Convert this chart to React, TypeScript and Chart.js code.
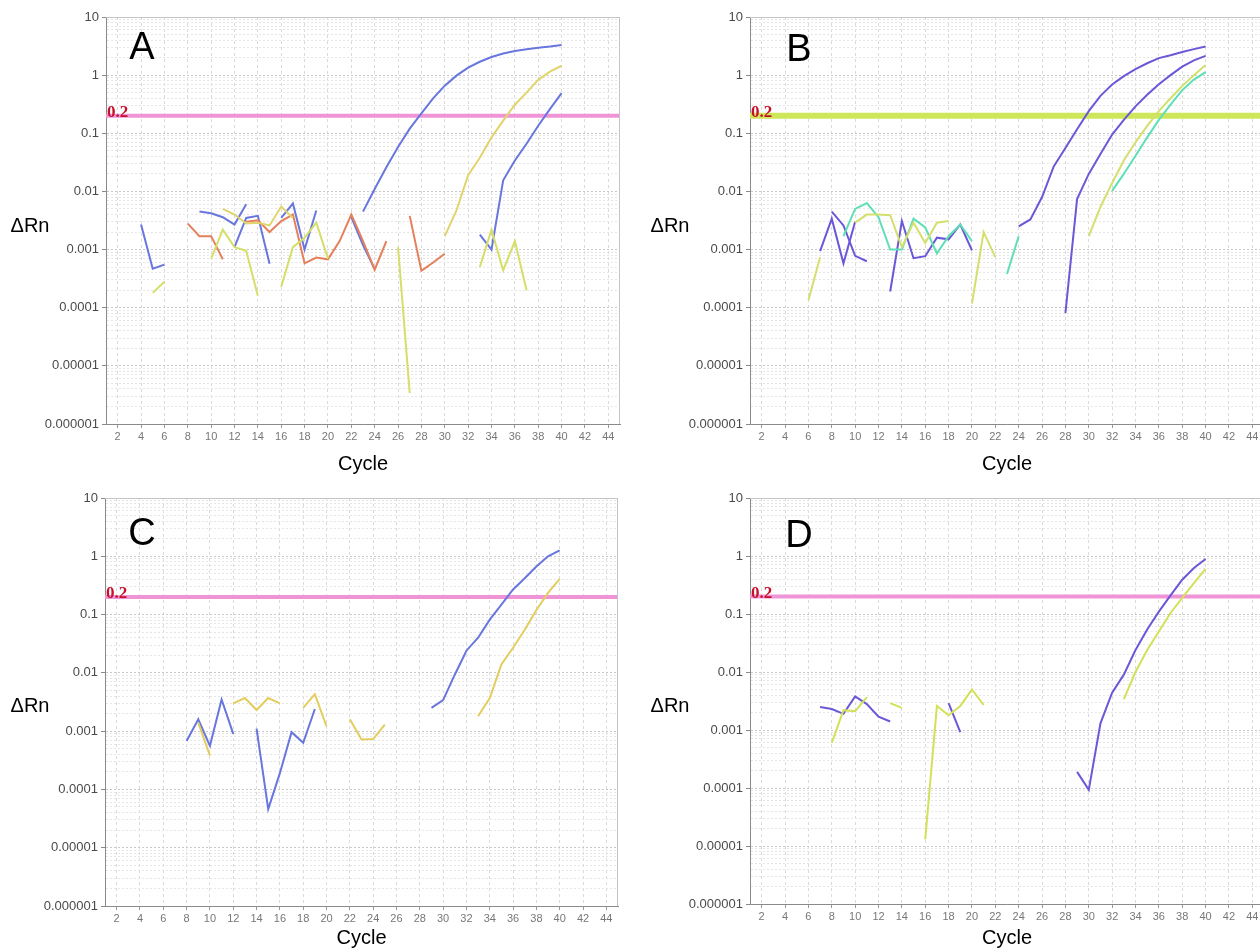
import React, { useEffect, useRef } from "react";
import { Chart, registerables } from "chart.js";

Chart.register(...registerables);

const _ = null;

// x axis (cycles 1..40 for data), tick labels every 2 cycles
const cycles = [
  1, 2, 3, 4, 5, 6, 7, 8, 9, 10, 11, 12, 13, 14, 15, 16, 17, 18, 19, 20,
  21, 22, 23, 24, 25, 26, 27, 28, 29, 30, 31, 32, 33, 34, 35, 36, 37, 38, 39, 40,
];
const xTickValues = [2, 4, 6, 8, 10, 12, 14, 16, 18, 20, 22, 24, 26, 28, 30, 32, 34, 36, 38, 40, 42, 44];
const yDecades = [10, 1, 0.1, 0.01, 0.001, 0.0001, 0.00001, 0.000001];
const yTickLabels = ["10", "1", "0.1", "0.01", "0.001", "0.0001", "0.00001", "0.000001"];
const thresholdValue = 0.2;
const thresholdLabel = "0.2";
const xTitle = "Cycle";
const yTitle = "ΔRn";

// ---------- Panel A ----------
const aBlue1 = [
  _, _, _, 0.0027, 0.00047, 0.00055, _, _, 0.0045, 0.0042,
  0.0036, 0.0027, 0.006, _, _, 0.0035, 0.0062, 0.001, 0.0047, _,
  _, _, 0.0045, 0.011, 0.026, 0.058, 0.12, 0.22, 0.4, 0.66,
  0.98, 1.35, 1.7, 2.05, 2.35, 2.6, 2.8, 2.95, 3.1, 3.3,
];
const aBlue2 = [
  _, _, _, _, _, _, _, _, _, _,
  _, 0.0011, 0.0035, 0.0038, 0.00057, _, _, _, _, _,
  _, 0.0036, 0.0012, 0.00046, _, _, _, _, _, _,
  _, _, 0.0018, 0.001, 0.0155, 0.034, 0.066, 0.135, 0.26, 0.49,
];
const aOrange = [
  _, _, _, _, _, _, _, 0.0028, 0.0017, 0.0017,
  0.00068, _, 0.003, 0.0032, 0.002, 0.0031, 0.004, 0.00058, 0.00073, 0.00068,
  0.0014, 0.004, 0.0014, 0.00045, 0.0014, _, 0.0038, 0.00043, 0.0006, 0.00085,
  _, _, _, _, _, _, _, _, _, _,
];
const aKhaki = [
  _, _, _, _, _, _, _, _, _, _,
  0.005, 0.004, 0.0028, 0.0029, 0.0026, 0.0055, 0.0035, _, _, _,
  _, _, _, _, _, _, _, _, _, 0.0017,
  0.0047, 0.019, 0.038, 0.085, 0.165, 0.31, 0.5, 0.83, 1.15, 1.45,
];
const aLime = [
  _, _, _, _, 0.00018, 0.00028, _, _, _, 0.0007,
  0.0022, 0.0011, 0.00095, 0.00016, _, 0.00023, 0.0011, 0.0016, 0.0029, 0.0007,
  _, _, _, _, _, 0.0011, 0.0000034, _, _, _,
  _, _, 0.0005, 0.0022, 0.00044, 0.0014, 0.0002, _, _, _,
];

// ---------- Panel B ----------
const bPurple1 = [
  _, _, _, _, _, _, 0.00094, 0.0034, 0.00058, 0.003,
  _, _, 0.00019, 0.0031, 0.00071, 0.00077, 0.0016, 0.0015, 0.0027, 0.00097,
  _, _, _, 0.0025, 0.0033, 0.008, 0.027, 0.056, 0.117, 0.24,
  0.44, 0.69, 0.96, 1.27, 1.6, 1.96, 2.2, 2.5, 2.8, 3.1,
];
const bPurple2 = [
  _, _, _, _, _, _, _, 0.0045, 0.0026, 0.00078,
  0.00063, _, _, _, _, _, _, _, _, _,
  _, _, _, _, _, _, _, 0.000081, 0.0074, 0.02,
  0.044, 0.095, 0.17, 0.29, 0.46, 0.7, 1.0, 1.4, 1.8, 2.15,
];
const bYellow = [
  _, _, _, _, _, 0.000135, 0.00074, _, _, 0.0029,
  0.004, 0.004, 0.0039, 0.0011, 0.0029, 0.0013, 0.0029, 0.0031, _, 0.000118,
  0.002, 0.00074, _, _, _, _, _, _, _, 0.0017,
  0.0054, 0.014, 0.034, 0.07, 0.134, 0.24, 0.4, 0.65, 1.0, 1.5,
];
const bTeal = [
  _, _, _, _, _, _, _, _, 0.0017, 0.005,
  0.0063, 0.0036, 0.001, 0.001, 0.0034, 0.0024, 0.00086, 0.0017, 0.0027, 0.0014,
  _, _, 0.00038, 0.0017, _, _, _, _, _, _,
  _, 0.0102, 0.02, 0.041, 0.085, 0.17, 0.31, 0.55, 0.84, 1.13,
];

// ---------- Panel C ----------
const cBlue = [
  _, _, _, _, _, _, _, 0.00068, 0.0016, 0.00056,
  0.0035, 0.0009, _, 0.0011, 0.000046, 0.00019, 0.00096, 0.00063, 0.0024, _,
  _, _, _, _, _, _, _, _, 0.0025, 0.0034,
  0.0093, 0.024, 0.04, 0.082, 0.148, 0.27, 0.42, 0.67, 1.0, 1.26,
];
const cYellow = [
  _, _, _, _, _, _, _, _, 0.0014, 0.00038,
  _, 0.003, 0.0037, 0.0023, 0.0037, 0.003, _, 0.0025, 0.0043, 0.0012,
  _, 0.0016, 0.00072, 0.00073, 0.0013, _, _, _, _, _,
  _, _, 0.0018, 0.0037, 0.014, 0.027, 0.055, 0.12, 0.235, 0.41,
];

// ---------- Panel D ----------
const dPurple = [
  _, _, _, _, _, _, 0.0025, 0.0023, 0.0019, 0.0038,
  0.0028, 0.0017, 0.0014, _, _, _, _, 0.0029, 0.00092, _,
  _, _, _, _, _, _, _, _, 0.00019, 0.000093,
  0.0013, 0.0044, 0.009, 0.024, 0.054, 0.11, 0.21, 0.39, 0.62, 0.89,
];
const dYellow = [
  _, _, _, _, _, _, _, 0.0006, 0.0022, 0.0021,
  0.0037, _, 0.0029, 0.0024, _, 0.000013, 0.0026, 0.0018, 0.0026, 0.005,
  0.0027, _, _, _, _, _, _, _, _, _,
  _, _, 0.0034, 0.01, 0.024, 0.05, 0.104, 0.19, 0.34, 0.6,
];

const BLUE = "#6876de";
const PURPLE = "#6a58d8";
const KHAKI = "#e2d46c";
const LIME = "#d5df68";
const ORANGE = "#e5805c";
const TEAL = "#5fdfb6";
const C_YELLOW = "#e3cd5e";
const B_YELLOW = "#d4df6c";
const D_YELLOW = "#d2e157";
const PINK = "#f094d8";
const B_THRESH = "#cee65a";

type Series = { data: (number | null)[]; color: string };
type PanelCfg = {
  letter: string;
  left: number;
  top: number;
  width: number;
  height: number;
  area: { left: number; right: number; top: number; bottom: number };
  series: Series[];
  threshColor: string;
  threshWidth: number;
  letterPos: [number, number];
  yTitlePos: [number, number];
};

const panels: PanelCfg[] = [
  {
    letter: "A", left: 0, top: 0, width: 630, height: 476,
    area: { left: 106, right: 620, top: 17, bottom: 424 },
    series: [
      { data: aLime, color: LIME },
      { data: aKhaki, color: KHAKI },
      { data: aOrange, color: ORANGE },
      { data: aBlue2, color: BLUE },
      { data: aBlue1, color: BLUE },
    ],
    threshColor: PINK, threshWidth: 4,
    letterPos: [142, 49], yTitlePos: [30, 226],
  },
  {
    letter: "B", left: 630, top: 0, width: 640, height: 476,
    area: { left: 120, right: 634, top: 17, bottom: 424 },
    series: [
      { data: bYellow, color: B_YELLOW },
      { data: bTeal, color: TEAL },
      { data: bPurple2, color: PURPLE },
      { data: bPurple1, color: PURPLE },
    ],
    threshColor: B_THRESH, threshWidth: 6,
    letterPos: [169, 51], yTitlePos: [40, 226],
  },
  {
    letter: "C", left: 0, top: 476, width: 630, height: 476,
    area: { left: 105, right: 618, top: 22, bottom: 430 },
    series: [
      { data: cYellow, color: C_YELLOW },
      { data: cBlue, color: BLUE },
    ],
    threshColor: PINK, threshWidth: 4,
    letterPos: [142, 59], yTitlePos: [30, 230],
  },
  {
    letter: "D", left: 630, top: 476, width: 640, height: 476,
    area: { left: 120, right: 634, top: 22, bottom: 428 },
    series: [
      { data: dYellow, color: D_YELLOW },
      { data: dPurple, color: PURPLE },
    ],
    threshColor: PINK, threshWidth: 4,
    letterPos: [169, 61], yTitlePos: [40, 230],
  },
];

const isDecade = (v: number) => Math.abs(Math.log10(v) - Math.round(Math.log10(v))) < 1e-6;

const overlayPlugin = {
  id: "overlay",
  afterDraw(chart: any, _args: any, opts: any) {
    const { ctx, chartArea } = chart;
    const yScale = chart.scales.y;
    ctx.save();
    // plot frame (top & right)
    ctx.strokeStyle = "#c4c4c4";
    ctx.lineWidth = 1;
    ctx.beginPath();
    ctx.moveTo(chartArea.left, chartArea.top + 0.5);
    ctx.lineTo(chartArea.right, chartArea.top + 0.5);
    ctx.moveTo(chartArea.right - 0.5, chartArea.top);
    ctx.lineTo(chartArea.right - 0.5, chartArea.bottom);
    ctx.stroke();
    // panel letter
    ctx.fillStyle = "#000";
    ctx.textAlign = "center";
    ctx.textBaseline = "middle";
    ctx.font = '38px "Liberation Sans", Arial, sans-serif';
    ctx.fillText(opts.letter, opts.letterPos[0], opts.letterPos[1]);
    // y title (horizontal)
    ctx.font = '20px "Liberation Sans", Arial, sans-serif';
    ctx.fillText(yTitle, opts.yTitlePos[0], opts.yTitlePos[1]);
    // threshold label
    const ty = yScale.getPixelForValue(thresholdValue);
    ctx.fillStyle = "#c8102a";
    ctx.textAlign = "left";
    ctx.textBaseline = "alphabetic";
    ctx.font = 'bold 17px "Liberation Serif", "Times New Roman", serif';
    ctx.fillText(thresholdLabel, chartArea.left + 1, ty + 1);
    ctx.restore();
  },
};

function buildYTicks() {
  const out: { value: number }[] = [];
  for (let e = -6; e <= 0; e++) {
    for (let m = 1; m <= 9; m++) {
      out.push({ value: Number((m * Math.pow(10, e)).toPrecision(3)) });
    }
  }
  out.push({ value: 10 });
  return out;
}

function Panel({ cfg }: { cfg: PanelCfg }) {
  const ref = useRef<HTMLCanvasElement | null>(null);
  useEffect(() => {
    if (!ref.current) return;
    const datasets: any[] = cfg.series.map((s) => ({
      data: cycles.map((c, i) => ({ x: c, y: s.data[i] })),
      borderColor: s.color,
      borderWidth: 2,
      pointRadius: 0,
      spanGaps: false,
      tension: 0,
    }));
    datasets.push({
      data: [
        { x: 1, y: thresholdValue },
        { x: 45, y: thresholdValue },
      ],
      borderColor: cfg.threshColor,
      borderWidth: cfg.threshWidth,
      pointRadius: 0,
    });
    const a = cfg.area;
    const chart = new Chart(ref.current, {
      type: "line",
      data: { datasets },
      plugins: [overlayPlugin as any],
      options: {
        animation: false,
        responsive: false,
        events: [],
        layout: { padding: { left: 0, top: a.top, right: cfg.width - a.right, bottom: 0 } },
        plugins: {
          legend: { display: false },
          tooltip: { enabled: false },
          overlay: { letter: cfg.letter, letterPos: cfg.letterPos, yTitlePos: cfg.yTitlePos },
        } as any,
        scales: {
          x: {
            type: "linear",
            min: 1,
            max: 45,
            afterBuildTicks: (axis: any) => {
              axis.ticks = xTickValues.map((v) => ({ value: v }));
            },
            afterFit: (scale: any) => {
              scale.height = cfg.height - a.bottom;
            },
            ticks: {
              autoSkip: false,
              maxRotation: 0,
              padding: 2,
              color: "#777",
              font: { size: 11, family: '"Liberation Sans", Arial, sans-serif' },
              callback: (v: any) => String(v),
            },
            grid: {
              color: "#dadada",
              lineWidth: 1,
              tickLength: 4,
              tickColor: "#999",
            },
            border: { display: true, color: "#8a8a8a", width: 1, dash: [3, 3] },
            title: {
              display: true,
              text: xTitle,
              color: "#000",
              font: { size: 20, family: '"Liberation Sans", Arial, sans-serif' },
              padding: { top: 0, bottom: cfg.top > 0 ? 2 : 0 },
            },
          },
          y: {
            type: "logarithmic",
            min: 0.000001,
            max: 10,
            afterBuildTicks: (axis: any) => {
              axis.ticks = buildYTicks();
            },
            afterFit: (scale: any) => {
              scale.width = a.left;
            },
            ticks: {
              autoSkip: false,
              major: { enabled: false },
              padding: 3,
              color: "#4a4a4a",
              font: { size: 13, family: '"Liberation Sans", Arial, sans-serif' },
              callback: (value: any) => {
                const i = yDecades.findIndex((d) => Math.abs(Math.log10(d) - Math.log10(value)) < 1e-6);
                return i >= 0 ? yTickLabels[i] : "";
              },
            },
            grid: {
              color: (ctx: any) => (ctx.tick && isDecade(ctx.tick.value) ? "#c9c9c9" : "#e6e6e6"),
              tickColor: (ctx: any) => (ctx.tick && isDecade(ctx.tick.value) ? "#8a8a8a" : "rgba(0,0,0,0)"),
              tickLength: 4,
              lineWidth: 1,
            },
            border: { display: true, color: "#8a8a8a", width: 1, dash: [2, 2] },
          },
        },
      } as any,
    });
    return () => chart.destroy();
  }, [cfg]);
  return (
    <canvas
      ref={ref}
      width={cfg.width}
      height={cfg.height}
      style={{ position: "absolute", left: cfg.left, top: cfg.top, width: cfg.width, height: cfg.height }}
    />
  );
}

export default function App() {
  return (
    <div
      style={{
        position: "fixed",
        left: 0,
        top: 0,
        width: 1260,
        height: 952,
        overflow: "hidden",
        background: "#fff",
      }}
    >
      {panels.map((p) => (
        <Panel key={p.letter} cfg={p} />
      ))}
    </div>
  );
}
